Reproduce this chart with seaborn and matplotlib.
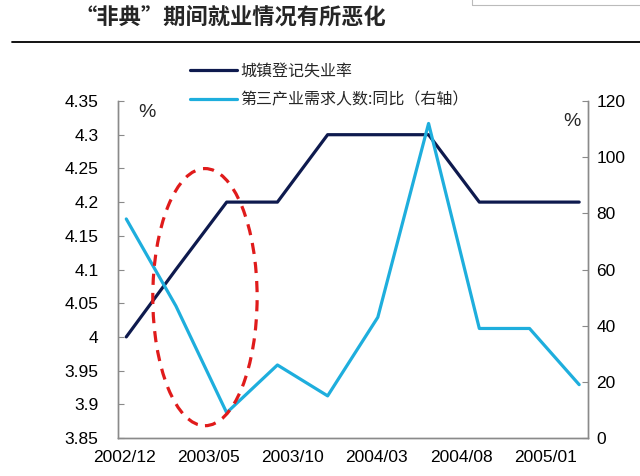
import matplotlib
matplotlib.use("Agg")
import matplotlib.pyplot as plt
import matplotlib.transforms as mtransforms
from matplotlib.patches import Ellipse, Rectangle
from matplotlib.lines import Line2D
import seaborn as sns
import pandas as pd

# data (quarterly)
months = ["2002-12", "2003-03", "2003-06", "2003-09", "2003-12",
          "2004-03", "2004-06", "2004-09", "2004-12", "2005-03"]
unemployment = [4.0, 4.1, 4.2, 4.2, 4.3, 4.3, 4.3, 4.2, 4.2, 4.2]
tertiary_yoy = [78, 47, 9, 26, 15, 43, 112, 39, 39, 19]
tick_months = ["2002-12", "2003-05", "2003-10", "2004-03", "2004-08", "2005-01"]
tick_labels = ["2002/12", "2003/05", "2003/10", "2004/03", "2004/08", "2005/01"]
left_ticks = [3.85, 3.9, 3.95, 4.0, 4.05, 4.1, 4.15, 4.2, 4.25, 4.3, 4.35]
left_ticklabels = ["3.85", "3.9", "3.95", "4", "4.05", "4.1", "4.15", "4.2", "4.25", "4.3", "4.35"]
right_ticks = [0, 20, 40, 60, 80, 100, 120]

label_unemp = "城镇登记失业率"
label_tert = "第三产业需求人数:同比（右轴）"
title = "“非典”期间就业情况有所恶化"

DARK = "#0e1a4e"
LIGHT = "#1eaedd"
GRID = "#8a8a8a"

sns.set_style("white")
plt.rcParams["font.family"] = ["Liberation Sans", "Noto Sans CJK SC", "DejaVu Sans"]

df = pd.DataFrame({
    "date": pd.to_datetime(months) + pd.Timedelta(days=15),
    "unemp": unemployment,
    "tert": tertiary_yoy,
})

fig = plt.figure(figsize=(6.4, 4.76), dpi=100)
ax = fig.add_axes([118 / 640, 1 - 438 / 476, 470 / 640, 337 / 476])
ax2 = ax.twinx()

sns.lineplot(data=df, x="date", y="unemp", ax=ax, color=DARK, lw=2.3, zorder=3)
sns.lineplot(data=df, x="date", y="tert", ax=ax2, color=LIGHT, lw=2.3, zorder=3)

ax.set_xlim(pd.Timestamp("2002-12-01"), pd.Timestamp("2005-04-01"))
ax.set_ylim(3.85, 4.35)
ax2.set_ylim(0, 120)
ax.set_xticks(pd.to_datetime(tick_months))
ax.set_xticklabels(tick_labels)
ax.set_yticks(left_ticks)
ax.set_yticklabels(left_ticklabels)
ax2.set_yticks(right_ticks)
for a in (ax, ax2):
    a.set_xlabel("")
    a.set_ylabel("")
    a.tick_params(direction="in", length=4, width=0.8, color=GRID,
                  labelsize=12.5, labelcolor="black", pad=6)
    for s in a.spines.values():
        s.set_color(GRID)
        s.set_linewidth(1.0)
    a.spines["top"].set_visible(False)
ax.tick_params(axis="x", pad=9)
ax.tick_params(axis="y", pad=14)

# x labels sit a little right of their ticks in the original
shift = mtransforms.ScaledTranslation(7 / 100, 0, fig.dpi_scale_trans)
for lbl in ax.get_xticklabels():
    lbl.set_transform(lbl.get_transform() + shift)

ax.text(0.062, 0.967, "%", transform=ax.transAxes, fontsize=14, ha="center", va="center")
ax.text(0.966, 0.938, "%", transform=ax.transAxes, fontsize=14, ha="center", va="center")

# red dashed ellipse highlighting the SARS period
ell = Ellipse((0.185, 0.418), 0.222, 0.763, transform=ax.transAxes, fill=False,
              edgecolor="#e01b1b", lw=2.3, ls=(0, (3.5, 2.5)), zorder=4)
ax2.add_patch(ell)

handles = [Line2D([], [], color=DARK, lw=2.3), Line2D([], [], color=LIGHT, lw=2.3)]
fig.legend(handles, [label_unemp, label_tert], loc="upper left",
           bbox_to_anchor=(176 / 640, 1 - 48 / 476), frameon=False,
           prop={"family": ["Noto Sans CJK SC"], "size": 11.5},
           handlelength=2.9, handletextpad=0.2, labelspacing=0.75)

fig.text(75 / 640, 1 - 18 / 476, title, fontsize=16, fontweight="bold",
         family=["Noto Sans CJK SC"], ha="left", va="center")
fig.add_artist(Line2D([12 / 640, 1.0], [1 - 42 / 476, 1 - 42 / 476], color="black", lw=1.3,
                      transform=fig.transFigure))
fig.add_artist(Rectangle((472 / 640, 1 - 5 / 476), 0.3, 0.05, transform=fig.transFigure,
                         fill=False, edgecolor="#bbbbbb", lw=0.8))

fig.savefig("out.png", dpi=100)
